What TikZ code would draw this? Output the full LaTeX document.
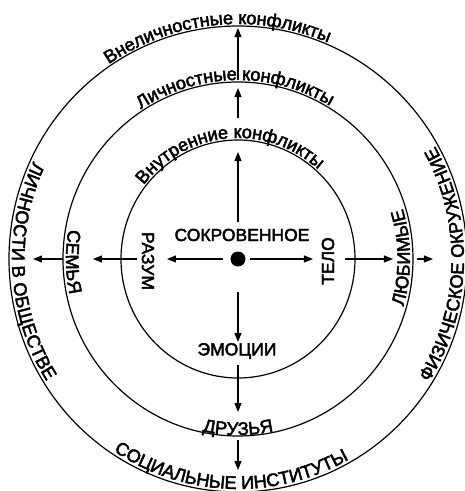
\documentclass[tikz,border=0pt]{standalone}
\usepackage{fontspec}
\setmainfont{Liberation Sans}[FakeBold=2.5]
\usetikzlibrary{arrows.meta}
\newcommand{\mycurvefont}{\fontsize{18.2}{19}\selectfont}
\tikzset{
  ring/.style={line width=1.2pt},
  arr/.style={line width=1.2pt,-{Triangle[length=9pt,width=7pt]}},
  lbl/.style={font=\fontsize{17.5}{18}\selectfont, inner sep=0pt},
  curvchar/.style={font=\mycurvefont, inner sep=0pt, anchor=base},
}
% place one character: angle, x radius, y radius, rotation, character
\newcommand{\myplacechar}[5]{\node[curvchar, rotate=#4] at (#1:#2 and #3) {#5};}
\ExplSyntaxOn
\dim_new:N \l__myarc_total_dim
\dim_new:N \l__myarc_pos_dim
\dim_new:N \l__myarc_w_dim
\box_new:N \l__myarc_box
\fp_new:N \l__myarc_r_fp
\tl_new:N \g__myarc_tl
\cs_new_protected:Npn \__myarc_measure:n #1
  {
    \tl_if_blank:nTF { #1 }
      { \hbox_set:Nn \l__myarc_box { \mycurvefont \hspace{\fontdimen2\font} } }
      { \hbox_set:Nn \l__myarc_box { \mycurvefont #1 } }
    \dim_set:Nn \l__myarc_w_dim { \box_wd:N \l__myarc_box }
  }
% #1 x radius, #2 y radius, #3 centre angle, #4 direction (1 ccw, -1 cw), #5 text
\cs_new_protected:Npn \myarc_text:nnnnn #1#2#3#4#5
  {
    \fp_set:Nn \l__myarc_r_fp { (#1 + #2) / 2 }
    \dim_zero:N \l__myarc_total_dim
    \str_map_inline:nn { #5 }
      {
        \__myarc_measure:n { ##1 }
        \dim_add:Nn \l__myarc_total_dim { \l__myarc_w_dim }
      }
    \dim_zero:N \l__myarc_pos_dim
    \str_map_inline:nn { #5 }
      {
        \__myarc_measure:n { ##1 }
        \tl_if_blank:nF { ##1 }
          {
            \tl_gput_right:Nx \g__myarc_tl
              {
                \exp_not:N \myplacechar
                  { \fp_eval:n { #3 + (#4) * ( \dim_to_decimal:n { \l__myarc_pos_dim + 0.5\l__myarc_w_dim - 0.5\l__myarc_total_dim } ) / \l__myarc_r_fp * 180 / pi } }
                  { #1 } { #2 }
                  { \fp_eval:n { #3 + (#4) * ( \dim_to_decimal:n { \l__myarc_pos_dim + 0.5\l__myarc_w_dim - 0.5\l__myarc_total_dim } ) / \l__myarc_r_fp * 180 / pi + 90 * (#4) } }
                  { \exp_not:n { ##1 } }
              }
          }
        \dim_add:Nn \l__myarc_pos_dim { \l__myarc_w_dim }
      }
  }
\NewDocumentCommand \arctext { m m m m m } { \myarc_text:nnnnn {#1}{#2}{#3}{#4}{#5} }
\NewDocumentCommand \drawarctexts { } { \tl_use:N \g__myarc_tl }
\ExplSyntaxOff
\begin{document}
% measure the curved labels outside the picture (real fonts in force)
% outer ring
\arctext{231}{235}{95.5}{-1}{Внеличностные конфликты}%
\arctext{226}{230}{183.5}{1}{ЛИЧНОСТИ В ОБЩЕСТВЕ}%
\arctext{226}{230}{268}{1}{СОЦИАЛЬНЫЕ ИНСТИТУТЫ}%
\arctext{226}{230}{-1.5}{1}{ФИЗИЧЕСКОЕ ОКРУЖЕНИЕ}%
% middle ring
\arctext{177}{179}{91}{-1}{Личностные конфликты}%
\arctext{172}{174}{181}{1}{СЕМЬЯ}%
\arctext{174}{176}{270}{1}{ДРУЗЬЯ}%
\arctext{172}{174}{0.5}{1}{ЛЮБИМЫЕ}%
% inner ring
\arctext{119}{121}{95}{-1}{Внутренние конфликты}%
\begin{tikzpicture}[x=1pt,y=1pt]
\useasboundingbox (-238,-232) rectangle (227,259);
% rings
\draw[ring] (0,0) ellipse [x radius=117, y radius=119];
\draw[ring] (0,0) ellipse [x radius=175, y radius=177];
\draw[ring] (0,0) ellipse [x radius=229, y radius=233];
% centre dot
\node[circle, fill, minimum size=15pt, inner sep=0pt] (dot) at (0,0) {};
% straight labels
\node[lbl] (sokr) at (4,24) {СОКРОВЕННОЕ};
\node[lbl, rotate=-90] (razum) at (-90,-2) {РАЗУМ};
\node[lbl, rotate=90] (telo) at (90,-2) {ТЕЛО};
\node[lbl] (emo) at (-1,-92) {ЭМОЦИИ};
% curved labels
\drawarctexts
% arrow end points
\coordinate (u1a) at (0,37);   \coordinate (u1b) at (0,107);
\coordinate (u2a) at (0,141);  \coordinate (u2b) at (0,171);
\coordinate (u3a) at (0,179);  \coordinate (u3b) at (0,231);
\coordinate (d1a) at (0,-33);  \coordinate (d1b) at (0,-83);
\coordinate (d2a) at (0,-106); \coordinate (d2b) at (0,-153);
\coordinate (d3a) at (0,-181); \coordinate (d3b) at (0,-211);
\coordinate (l1a) at (-15,0);  \coordinate (l1b) at (-71,0);
\coordinate (l2a) at (-101,0); \coordinate (l2b) at (-145,0);
\coordinate (l3a) at (-175,0); \coordinate (l3b) at (-205,0);
\coordinate (r1a) at (12,0);   \coordinate (r1b) at (75,0);
\coordinate (r2a) at (107,0);  \coordinate (r2b) at (155,0);
\coordinate (r3a) at (179,0);  \coordinate (r3b) at (195,0);
\foreach \s in {u1,u2,u3,d1,d2,d3,l1,l2,l3,r1,r2,r3}
  \draw[arr] (\s a) -- (\s b);
\end{tikzpicture}
\end{document}
